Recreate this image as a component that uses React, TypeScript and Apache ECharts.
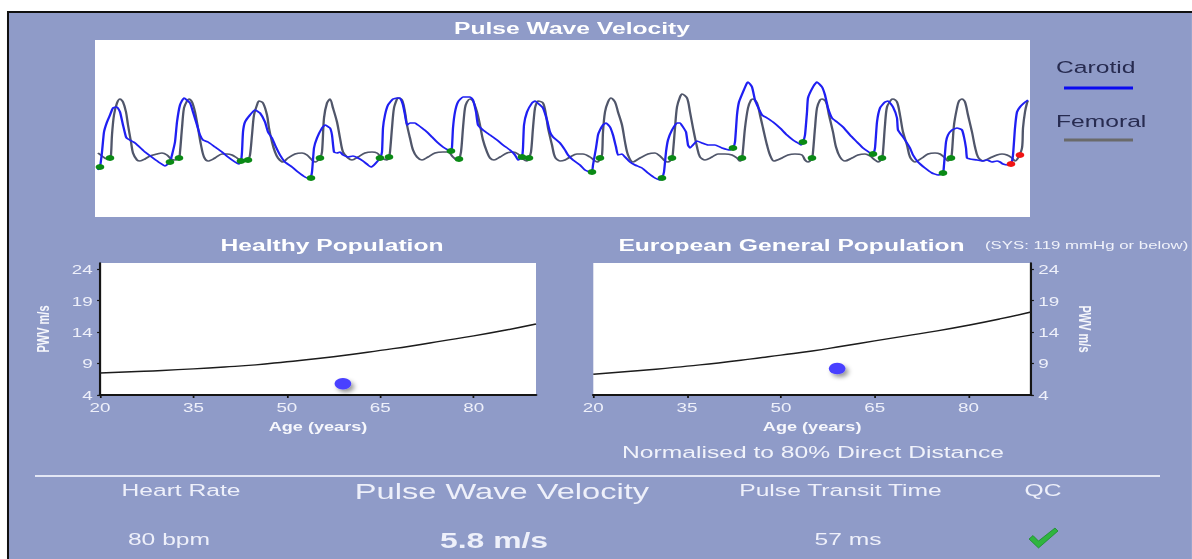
import React, { useEffect, useRef } from 'react';
import * as echarts from 'echarts';

// ---------- data ----------
// Waveforms: x = sample index (0..935), y = amplitude (0..177)
const carotid: number[][] = [
  [3,47],[5,50],[7,65],[9,85],[12,95],[15,102],[18,109],[22,110],[25,105],[28,92],[31,80],[33,78],[40,74],[50,65],[58,59],[65,54],[70,51],[75,55],[77,62],[80,75],[82,95],[85,112],[89,119],[95,114],[98,105],[102,92],[105,82],[108,77],[113,75],[120,70],[127,65],[133,60],[140,55],[144,53],[146,56],[147,65],[148,85],[150,95],[155,102],[160,107],[165,104],[170,95],[173,85],[177,79],[180,72],[185,62],[190,55],[197,50],[203,45],[210,40],[215,38],[217,45],[219,69],[222,79],[227,89],[230,92],[235,89],[237,82],[239,65],[242,64],[245,65],[248,62],[253,60],[258,61],[263,59],[268,56],[273,52],[276,50],[280,53],[285,59],[287,65],[288,89],[290,102],[293,112],[298,118],[302,119],[305,119],[308,112],[310,102],[312,92],[315,94],[320,94],[323,92],[327,89],[332,85],[337,80],[342,75],[348,70],[353,67],[356,66],[357,70],[358,89],[360,105],[363,115],[368,120],[375,120],[378,117],[381,105],[383,92],[388,87],[395,82],[402,77],[408,72],[415,67],[420,62],[423,57],[427,60],[428,69],[429,92],[432,105],[437,114],[440,116],[445,112],[448,109],[452,97],[455,85],[458,80],[465,74],[470,67],[473,62],[478,57],[485,52],[490,47],[495,45],[497,45],[498,52],[501,69],[503,82],[505,87],[508,92],[511,94],[515,90],[518,82],[521,70],[523,62],[527,63],[530,60],[535,55],[540,52],[547,49],[553,44],[560,39],[565,37],[567,39],[569,45],[571,65],[573,77],[577,87],[582,94],[585,94],[588,90],[591,85],[593,72],[595,69],[598,72],[602,76],[607,74],[613,72],[620,72],[627,69],[635,67],[638,69],[640,75],[642,102],[644,115],[648,125],[652,134],[653,135],[657,130],[660,117],[663,110],[667,102],[672,99],[678,95],[685,89],[692,82],[698,77],[703,74],[706,72],[708,75],[710,82],[712,105],[713,119],[718,130],[722,135],[727,130],[730,122],[733,109],[737,99],[742,95],[748,90],[755,82],[762,75],[768,69],[775,64],[778,62],[780,69],[782,95],[785,109],[790,115],[793,116],[798,110],[802,99],[803,87],[808,80],[812,74],[815,69],[818,62],[823,55],[830,49],[837,44],[843,42],[848,44],[849,52],[851,75],[853,82],[857,87],[862,89],[867,87],[869,80],[871,69],[872,59],[875,58],[882,57],[887,56],[892,57],[897,55],[902,56],[905,55],[908,53],[913,52],[916,53],[918,62],[920,89],[922,105],[925,110],[929,114],[933,117]
];
const femoral: number[][] = [
  [3,64],[7,61],[12,58],[15,58],[16,62],[17,82],[19,102],[22,114],[25,118],[28,115],[31,105],[33,92],[36,75],[38,64],[42,57],[45,56],[50,58],[55,61],[62,63],[67,64],[72,62],[76,58],[80,57],[84,59],[85,65],[87,89],[89,109],[92,116],[94,118],[97,115],[100,105],[103,89],[106,72],[109,60],[113,56],[120,59],[127,63],[132,63],[137,62],[142,59],[147,56],[153,57],[155,62],[157,82],[159,102],[162,112],[164,116],[168,114],[172,102],[174,89],[177,75],[180,65],[183,59],[188,55],[193,59],[200,63],[207,64],[212,62],[217,57],[220,55],[225,59],[227,65],[229,99],[232,114],[235,118],[238,109],[242,95],[245,79],[248,65],[253,59],[257,57],[263,60],[270,64],[277,65],[282,64],[287,59],[292,57],[294,60],[295,65],[297,89],[299,109],[302,118],[303,119],[307,117],[310,105],[312,92],[315,79],[318,67],[322,60],[327,57],[333,60],[340,64],[348,65],[353,65],[358,60],[362,57],[364,58],[366,65],[368,89],[370,109],[372,115],[375,118],[378,116],[382,105],[385,92],[388,77],[392,65],[395,59],[399,57],[405,60],[412,64],[418,65],[423,63],[428,58],[432,56],[434,59],[436,65],[438,89],[440,109],[442,115],[443,116],[448,114],[451,102],[453,89],[457,72],[460,60],[465,56],[470,57],[475,60],[482,63],[488,63],[495,60],[500,56],[503,55],[505,59],[507,62],[508,85],[510,105],[513,115],[516,119],[520,115],[523,105],[527,92],[530,75],[533,62],[538,55],[545,59],[553,63],[560,64],[565,61],[570,56],[573,55],[577,59],[578,65],[580,89],[582,110],[585,120],[587,123],[592,119],[595,105],[598,89],[602,70],[605,60],[610,57],[617,60],[623,63],[630,63],[637,62],[642,59],[645,56],[647,59],[648,67],[650,89],[653,109],[656,117],[658,118],[662,114],[665,102],[668,89],[672,72],[675,62],[679,56],[687,59],[693,62],[700,63],[707,62],[710,57],[713,55],[717,59],[718,65],[720,89],[722,109],[725,117],[727,118],[731,115],[734,102],[738,85],[741,70],[745,60],[750,56],[757,59],[763,62],[770,63],[775,61],[780,57],[783,55],[787,59],[788,65],[790,92],[792,110],[796,117],[798,118],[802,115],[805,102],[808,85],[812,72],[815,60],[820,55],[827,59],[833,63],[840,64],[845,63],[850,59],[853,56],[856,59],[857,65],[859,92],[862,109],[864,116],[867,118],[870,115],[873,102],[877,85],[880,70],[883,60],[888,56],[895,59],[902,62],[907,63],[912,62],[917,59],[920,56],[923,59],[927,69],[928,89],[930,105],[932,114],[933,116]
];
const carotidFeet: number[][] = [
  [5,50],[75,55],[146,56],[216,39],[285,59],[356,66],[427,60],[497,45],[567,39],[638,69],[708,75],[778,63],[848,44]
];
const femoralFeet: number[][] = [
  [15,59],[84,59],[153,57],[225,59],[294,60],[364,58],[434,59],[505,59],[577,59],[647,59],[717,59],[787,59],[856,59]
];
const rejectedFeet: number[][] = [[916,53],[925,62]];

// Reference curves (age in years, PWV in m/s)
const ages = [20,25,30,35,40,45,50,55,60,65,70,75,80,85,90];
const healthyRef = [7.5,7.7,7.9,8.15,8.45,8.8,9.3,9.8,10.4,11.1,11.8,12.6,13.4,14.3,15.3];
const europeanRef = [7.3,7.7,8.1,8.6,9.1,9.7,10.35,11.0,11.8,12.6,13.4,14.2,15.1,16.1,17.2];
const patientAge = 59;
const healthyPwv = 5.8;
const europeanPwv = 8.2;
const ageTicks = [20,35,50,65,80];
const pwvTicks = [4,9,14,19,24];

const statLabels = ['Heart Rate','Pulse Wave Velocity','Pulse Transit Time','QC'];
const statValues = ['80 bpm','5.8 m/s','57 ms'];

// ---------- layout ----------
const S = 1.45; // horizontal stretch of the original capture
const PAGE_W = 1192;
const PAGE_H = 559;
const px = (X: number) => X / S;
const FONT = "'Liberation Sans', Arial, sans-serif";
const LAV = '#8f9bc8';
const LIGHT = '#eef0fa';

function txt(X: number, Y: number, text: string, size: number, opts: any = {}) {
  const align = opts.align || 'center';
  return {
    type: 'text',
    x: px(X),
    y: Y,
    rotation: opts.rotation || 0,
    silent: true,
    style: {
      text,
      fill: opts.color || LIGHT,
      font: `${opts.bold ? 'bold ' : ''}${size}px ${FONT}`,
      align,
      textAlign: align,
      verticalAlign: 'middle',
      textVerticalAlign: 'middle',
    },
  };
}

function refAxisX(grid: number) {
  return {
    gridIndex: grid,
    type: 'value',
    min: 20,
    max: 90,
    axisLine: { show: true, onZero: false, lineStyle: { color: '#151515', width: 2 } },
    axisTick: { show: true, customValues: ageTicks, length: 3, lineStyle: { color: '#151515', width: 1.2 } },
    axisLabel: { customValues: ageTicks, color: LIGHT, fontSize: 13, fontFamily: FONT, margin: 6 },
    splitLine: { show: false },
    name: 'Age (years)',
    nameLocation: 'middle',
    nameGap: 25,
    nameTextStyle: { color: '#f6f7fc', fontSize: 12.5, fontWeight: 'bold', fontFamily: FONT },
  };
}

function refAxisY(grid: number, right: boolean) {
  return {
    gridIndex: grid,
    type: 'value',
    min: 4,
    max: 25,
    position: right ? 'right' : 'left',
    axisLine: { show: true, lineStyle: { color: '#151515', width: 1.5 } },
    axisTick: { show: true, customValues: pwvTicks, length: 2, lineStyle: { color: '#151515', width: 1.2 } },
    axisLabel: { customValues: pwvTicks, color: LIGHT, fontSize: 13, fontFamily: FONT, margin: 5 },
    splitLine: { show: false },
    name: 'PWV m/s',
    nameLocation: 'middle',
    nameRotate: right ? -90 : 90,
    nameGap: right ? 31 : 33,
    nameTextStyle: { color: '#f6f7fc', fontSize: 11, fontWeight: 'bold', fontFamily: FONT },
  };
}

const dotStyle = {
  color: '#4a40ff',
  opacity: 1,
  shadowBlur: 4,
  shadowColor: 'rgba(0,0,0,0.4)',
  shadowOffsetX: 2,
  shadowOffsetY: 3,
};

const option: any = {
  animation: false,
  backgroundColor: LAV,
  title: [
    { text: 'Pulse Wave Velocity', left: px(572), top: 19, textAlign: 'center', padding: 0,
      textStyle: { color: '#ffffff', fontSize: 17, fontWeight: 'bold', fontFamily: FONT } },
    { text: 'Healthy Population', left: px(332), top: 236, textAlign: 'center', padding: 0,
      textStyle: { color: '#ffffff', fontSize: 17, fontWeight: 'bold', fontFamily: FONT } },
    { text: 'European General Population', left: px(791.5), top: 236, textAlign: 'center', padding: 0,
      textStyle: { color: '#ffffff', fontSize: 17, fontWeight: 'bold', fontFamily: FONT } },
  ],
  grid: [
    { left: px(95), top: 40, width: px(1030) - px(95), height: 177, show: true, backgroundColor: '#ffffff', borderWidth: 0 },
    { left: px(100), top: 263, width: px(536) - px(100), height: 132, show: true, backgroundColor: '#ffffff', borderWidth: 0 },
    { left: px(593.3), top: 263, width: px(1031) - px(593.3), height: 132, show: true, backgroundColor: '#ffffff', borderWidth: 0 },
  ],
  xAxis: [
    { gridIndex: 0, type: 'value', min: 0, max: 935, show: false },
    refAxisX(1),
    refAxisX(2),
  ],
  yAxis: [
    { gridIndex: 0, type: 'value', min: 0, max: 177, show: false },
    refAxisY(1, false),
    refAxisY(2, true),
  ],
  series: [
    { name: 'Femoral', type: 'line', xAxisIndex: 0, yAxisIndex: 0, data: femoral, smooth: 0.3, showSymbol: false,
      lineStyle: { color: '#50566a', width: 1.6 }, z: 2 },
    { name: 'Carotid', type: 'line', xAxisIndex: 0, yAxisIndex: 0, data: carotid, smooth: 0.15, showSymbol: false,
      lineStyle: { color: '#1f1ff2', width: 1.6 }, z: 3 },
    { name: 'Carotid foot', type: 'scatter', xAxisIndex: 0, yAxisIndex: 0, data: carotidFeet, symbolSize: 6,
      itemStyle: { color: '#0a8a15', opacity: 1 }, z: 4 },
    { name: 'Femoral foot', type: 'scatter', xAxisIndex: 0, yAxisIndex: 0, data: femoralFeet, symbolSize: 6,
      itemStyle: { color: '#0a8a15', opacity: 1 }, z: 4 },
    { name: 'Rejected foot', type: 'scatter', xAxisIndex: 0, yAxisIndex: 0, data: rejectedFeet, symbolSize: 6,
      itemStyle: { color: '#f01414', opacity: 1 }, z: 4 },
    { name: 'Healthy reference', type: 'line', xAxisIndex: 1, yAxisIndex: 1,
      data: ages.map((a, i) => [a, healthyRef[i]]), smooth: true, showSymbol: false,
      lineStyle: { color: '#1c1c1c', width: 1.4 } },
    { name: 'Patient (healthy)', type: 'scatter', xAxisIndex: 1, yAxisIndex: 1,
      data: [[patientAge, healthyPwv]], symbolSize: 11.5, itemStyle: dotStyle },
    { name: 'European reference', type: 'line', xAxisIndex: 2, yAxisIndex: 2,
      data: ages.map((a, i) => [a, europeanRef[i]]), smooth: true, showSymbol: false,
      lineStyle: { color: '#1c1c1c', width: 1.4 } },
    { name: 'Patient (european)', type: 'scatter', xAxisIndex: 2, yAxisIndex: 2,
      data: [[patientAge, europeanPwv]], symbolSize: 11.5, itemStyle: dotStyle },
  ],
  graphic: [
    // page margin outside the frame
    { type: 'rect', silent: true, shape: { x: 0, y: 0, width: PAGE_W / S, height: 11 }, style: { fill: '#ffffff' } },
    { type: 'rect', silent: true, shape: { x: 0, y: 0, width: px(7), height: PAGE_H }, style: { fill: '#ffffff' } },
    { type: 'line', silent: true, shape: { x1: px(7), y1: 12, x2: PAGE_W / S, y2: 12 }, style: { stroke: '#111', lineWidth: 2 } },
    { type: 'line', silent: true, shape: { x1: px(8), y1: 11, x2: px(8), y2: PAGE_H }, style: { stroke: '#111', lineWidth: 1.4 } },
    // legend
    txt(1056, 67, 'Carotid', 17, { align: 'left', color: '#272b50' }),
    { type: 'line', silent: true, shape: { x1: px(1064), y1: 88, x2: px(1133), y2: 88 }, style: { stroke: '#0a0af0', lineWidth: 3 } },
    txt(1056, 121, 'Femoral', 17, { align: 'left', color: '#272b50' }),
    { type: 'line', silent: true, shape: { x1: px(1064), y1: 140, x2: px(1133), y2: 140 }, style: { stroke: '#6a6a6a', lineWidth: 3 } },
    // subtitle note
    txt(985, 245, '(SYS: 119 mmHg or below)', 11.6, { align: 'left', color: '#f0f2fa' }),
    txt(813, 452, 'Normalised to 80% Direct Distance', 17, { color: '#f0f2fa' }),
    // separator
    { type: 'line', silent: true, shape: { x1: px(35), y1: 476, x2: px(1160), y2: 476 }, style: { stroke: '#e3e7f5', lineWidth: 2 } },
    // stats
    txt(181, 490, statLabels[0], 17),
    txt(502, 491, statLabels[1], 22.5),
    txt(840.5, 490, statLabels[2], 17),
    txt(1043, 490, statLabels[3], 17),
    txt(169, 539, statValues[0], 17),
    txt(494, 540, statValues[1], 22, { bold: true }),
    txt(848, 539, statValues[2], 17),
    // QC check mark
    {
      type: 'polygon', silent: true,
      shape: { points: [[px(1029), 539], [px(1033), 535.5], [px(1038.5), 541], [px(1055), 528], [px(1058), 531], [px(1038.5), 548]] },
      style: { fill: '#2fb53f', stroke: '#168a25', lineWidth: 0.6 },
    },
  ],
};

export default function App() {
  const ref = useRef<HTMLDivElement>(null);
  useEffect(() => {
    if (!ref.current) return;
    const chart = echarts.init(ref.current, null, { renderer: 'svg' });
    chart.setOption(option);
    return () => chart.dispose();
  }, []);
  return (
    <div
      ref={ref}
      style={{
        position: 'absolute',
        left: 0,
        top: 0,
        width: PAGE_W / S,
        height: PAGE_H,
        transform: `scaleX(${S})`,
        transformOrigin: '0 0',
      }}
    />
  );
}
